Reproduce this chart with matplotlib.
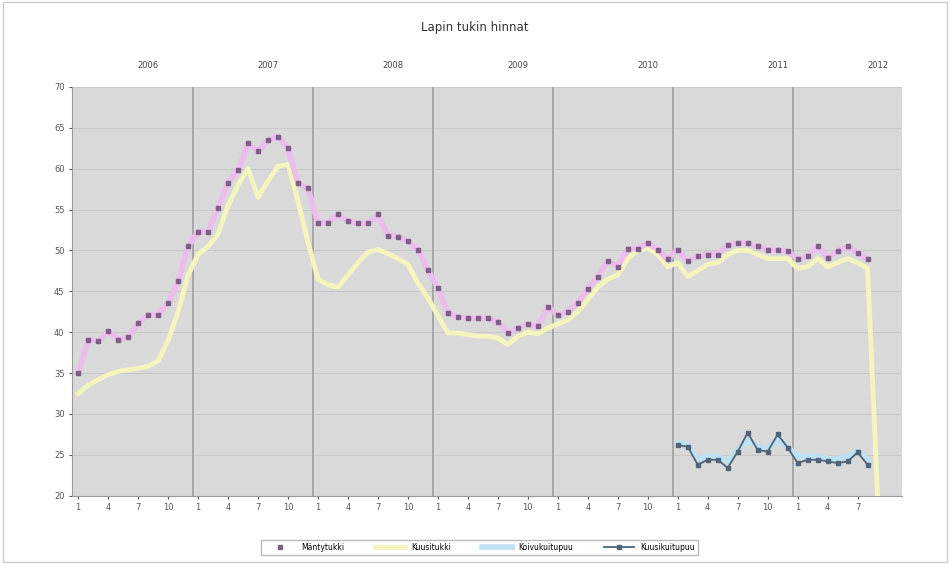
import matplotlib
matplotlib.use("Agg")
import matplotlib.pyplot as plt

# Kuukausi-indeksi: 0 = 1/2006
years = ['2006', '2007', '2008', '2009', '2010', '2011', '2012']
year_label_pos = [7, 19, 31.5, 44, 57, 70, 80]

# Mäntytukki 1/2006 - 8/2012
manty = [35.0, 39.1, 38.9, 40.1, 39.1, 39.4, 41.1, 42.1, 42.1, 43.6, 46.2, 50.5,
         52.3, 52.3, 55.2, 58.3, 59.8, 63.1, 62.1, 63.5, 63.9, 62.5, 58.2, 57.6,
         53.3, 53.4, 54.4, 53.6, 53.3, 53.3, 54.4, 51.8, 51.7, 51.1, 50.1, 47.6,
         45.4, 42.3, 41.9, 41.7, 41.7, 41.7, 41.3, 39.9, 40.5, 41.0, 40.7, 43.1,
         42.1, 42.5, 43.6, 45.3, 46.8, 48.7, 48.0, 50.2, 50.2, 50.9, 50.1, 48.9,
         50.1, 48.7, 49.3, 49.5, 49.5, 50.7, 50.9, 50.9, 50.5, 50.1, 50.1, 49.9,
         48.9, 49.3, 50.5, 49.1, 49.9, 50.5, 49.7, 48.9]

# Kuusitukki 1/2006 - 9/2012
kuusi = [32.5, 33.5, 34.2, 34.8, 35.2, 35.4, 35.6, 35.8, 36.5, 39.0, 42.5, 47.0,
         49.5, 50.5, 52.0, 55.5, 58.0, 60.0, 56.5, 58.5, 60.3, 60.5, 56.0, 51.0,
         46.5, 45.8, 45.5, 47.0, 48.5, 49.8, 50.1, 49.6, 49.0, 48.3, 46.0, 44.2,
         42.0, 39.9, 39.9, 39.7, 39.5, 39.5, 39.3, 38.5, 39.5, 40.0, 39.8, 40.5,
         41.0, 41.5, 42.5, 44.0, 45.5, 46.5, 47.0, 49.0, 50.0, 50.3, 49.5, 48.0,
         48.5, 46.8, 47.5, 48.3, 48.5, 49.5, 50.0, 50.0, 49.5, 49.0, 49.0, 49.0,
         47.8, 48.0, 49.0, 48.0, 48.5, 49.0, 48.5, 47.8, 20.0]

# 1/2011 - 8/2012
koivu = [26.5, 26.3, 24.5, 24.8, 24.8, 24.2, 25.5, 26.8, 26.0, 25.8, 26.8, 26.0,
         24.8, 24.8, 24.8, 24.6, 24.5, 24.8, 25.5, 24.4]
kuitu = [26.2, 26.0, 23.8, 24.4, 24.4, 23.4, 25.4, 27.7, 25.6, 25.4, 27.5, 25.9,
         24.0, 24.4, 24.4, 24.2, 24.0, 24.2, 25.3, 23.8]

labels = ['Mäntytukki', 'Kuusitukki', 'Koivukuitupuu', 'Kuusikuitupuu']

t1 = list(range(len(manty)))
t2 = list(range(len(kuusi)))
t3 = list(range(60, 60 + len(koivu)))
t4 = list(range(60, 60 + len(kuitu)))

fig = plt.figure(figsize=(9.5, 5.64), dpi=100)
fig.patch.set_facecolor('white')
ax = fig.add_axes([0.076, 0.121, 0.873, 0.725])
ax.set_facecolor('#d9d9d9')

ax.plot(t2, kuusi, color='#f4f4be', lw=3.5, label=labels[1], zorder=3)
ax.plot(t1, manty, color='#ecbcec', lw=4, zorder=4)
ax.plot(t1, manty, color='#ecbcec', lw=0, marker='s', ms=3.5,
        mfc='#7d5f86', mec='#7d5f86', label=labels[0], zorder=5)
ax.plot(t3, koivu, color='#bde0f2', lw=4, label=labels[2], zorder=4)
ax.plot(t4, kuitu, color='#4f6478', lw=1.3, marker='s', ms=2.5,
        label=labels[3], zorder=5)

ax.set_xlim(-0.6, 82.4)
ax.set_ylim(20, 70)
ax.set_yticks(range(20, 71, 5))
ax.yaxis.grid(True, color='#c9c9c9', lw=0.8)
for k in range(1, 7):
    ax.axvline(12 * k - 0.5, color='#a6a6a6', lw=1.4, zorder=2)

mticks = [m for m in range(0, 79) if m % 3 == 0]
ax.set_xticks(mticks)
ax.set_xticklabels([str(m % 12 + 1) for m in mticks])
ax.tick_params(axis='both', labelsize=6, colors='#555555', length=2)
for s in ['top', 'right']:
    ax.spines[s].set_visible(False)
ax.spines['left'].set_color('#9a9a9a')
ax.spines['bottom'].set_color('#9a9a9a')

top = ax.twiny()
top.set_xlim(ax.get_xlim())
top.set_xticks(year_label_pos)
top.set_xticklabels(years)
top.tick_params(axis='x', labelsize=6, colors='#444444', length=0, pad=12)
for s in top.spines.values():
    s.set_visible(False)

fig.text(0.5, 0.945, 'Lapin tukin hinnat', ha='center', fontsize=8.5, color='#333333')

handles, labs = ax.get_legend_handles_labels()
order = [labs.index(l) for l in labels]
leg = fig.legend([handles[i] for i in order], labels, loc='center',
                 bbox_to_anchor=(0.505, 0.030), ncol=4, fontsize=5.5,
                 frameon=True, fancybox=False, edgecolor='#aaaaaa',
                 handlelength=4, columnspacing=4)

# reunus
fig.add_artist(plt.Rectangle((0.003, 0.003), 0.994, 0.994, transform=fig.transFigure,
                             fill=False, edgecolor='#cccccc', lw=1))

fig.savefig('out.png', dpi=100)
